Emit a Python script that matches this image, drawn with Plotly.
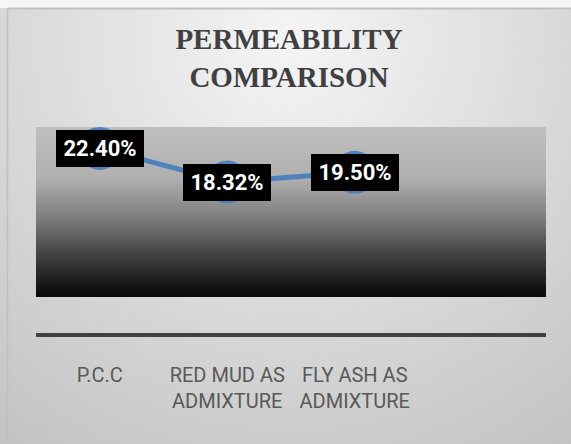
import base64
import plotly.graph_objects as go

# ---- data ----
categories = ["P.C.C", "RED MUD AS ADMIXTURE", "FLY ASH AS ADMIXTURE"]
tick_labels = ["P.C.C", "RED MUD AS<br>ADMIXTURE", "FLY ASH AS<br>ADMIXTURE"]
values = [22.40, 18.32, 19.50]
title_text = "PERMEABILITY<br>COMPARISON"

# ---- layout geometry ----
W, H = 571, 444
ML, MR, MT, MB = 36, 25, 127, 111
PW, PH = W - ML - MR, H - MT - MB
GRAD_BOTTOM_PX = 297  # where the plot-area gradient ends

LINE_COLOR = "#4F81BD"

# background radial gradient + border (decoration)
bg_svg = f'''<svg xmlns="http://www.w3.org/2000/svg" width="{W}" height="{H}" viewBox="0 0 {W} {H}" preserveAspectRatio="none">
<defs><radialGradient id="g" gradientUnits="userSpaceOnUse" cx="290" cy="40" r="500">
<stop offset="0" stop-color="#f5f5f5"/><stop offset="1" stop-color="#c2c2c2"/></radialGradient></defs>
<rect x="0" y="0" width="{W}" height="{H}" fill="url(#g)"/>
<rect x="0" y="0" width="{W}" height="8" fill="#f6f6f6"/>
<line x1="7.5" y1="8.5" x2="{W}" y2="8.5" stroke="#c0c0c0" stroke-width="2"/>
<line x1="7.5" y1="8.5" x2="7.5" y2="{H}" stroke="#c0c0c0" stroke-width="1.5"/>
</svg>'''

plot_svg = '''<svg xmlns="http://www.w3.org/2000/svg" width="100" height="100" viewBox="0 0 100 100" preserveAspectRatio="none">
<defs><linearGradient id="p" x1="0" y1="0" x2="0" y2="1">
<stop offset="0" stop-color="#bfbfbf"/><stop offset="0.3" stop-color="#b0b0b0"/>
<stop offset="0.55" stop-color="#7a7a7a"/><stop offset="0.75" stop-color="#424242"/>
<stop offset="0.95" stop-color="#121212"/><stop offset="1" stop-color="#0a0a0a"/>
</linearGradient></defs>
<rect x="0" y="0" width="100" height="100" fill="url(#p)"/></svg>'''


def svg_uri(s):
    return "data:image/svg+xml;base64," + base64.b64encode(s.encode()).decode()


fig = go.Figure()
fig.add_trace(go.Scatter(
    x=categories, y=values, mode="lines+markers",
    line=dict(color=LINE_COLOR, width=5),
    marker=dict(size=43, color=LINE_COLOR),
    cliponaxis=False, hoverinfo="skip", showlegend=False,
))

for c, v in zip(categories, values):
    fig.add_annotation(
        x=c, y=v, text=f"{v:.2f}%", showarrow=False,
        font=dict(family="Roboto", size=22, color="white", weight="bold"),
        bgcolor="black", borderpad=5, borderwidth=0, width=78, height=27,
        xanchor="center", yanchor="middle",
    )

fig.update_layout(
    width=W, height=H,
    margin=dict(l=ML, r=MR, t=MT, b=MB, pad=0),
    paper_bgcolor="rgba(0,0,0,0)", plot_bgcolor="rgba(0,0,0,0)",
    title=dict(text=title_text, x=289 / W, xanchor="center", xref="container",
               y=1 - 49 / H, yanchor="top", yref="container",
               font=dict(family="Liberation Serif", size=29, color="#404040", weight="bold")),
    images=[
        dict(source=svg_uri(bg_svg), xref="paper", yref="paper",
             x=-ML / PW, y=1 + MT / PH, sizex=W / PW, sizey=H / PH,
             sizing="stretch", layer="below", xanchor="left", yanchor="top"),
        dict(source=svg_uri(plot_svg), xref="paper", yref="paper",
             x=0, y=1, sizex=1, sizey=(GRAD_BOTTOM_PX - MT) / PH,
             sizing="stretch", layer="below", xanchor="left", yanchor="top"),
    ],
    xaxis=dict(type="category", categoryarray=categories, range=[-0.5, 3.5],
               tickvals=categories, ticktext=tick_labels,
               showline=True, linecolor="#404040", linewidth=4, ticks="",
               showgrid=False, zeroline=False, ticklabelstandoff=21,
               tickfont=dict(family="Roboto", size=20, color="#595959")),
    yaxis=dict(range=[0, 25], showticklabels=False, showgrid=False,
               zeroline=False, showline=False, ticks=""),
)

fig.write_html("out.html", config={"displayModeBar": False},
               post_script="document.body.style.margin='0';")
